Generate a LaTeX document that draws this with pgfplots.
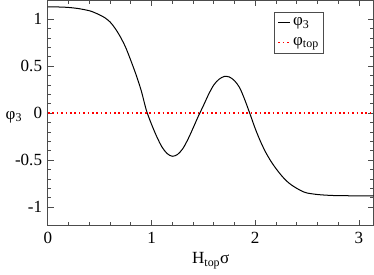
\documentclass[border=0pt]{standalone}
\usepackage{fontspec}
\setmainfont{Liberation Serif}
\usepackage{pgfplots}
\pgfplotsset{compat=1.18}
\definecolor{myred}{RGB}{255,0,0}
\begin{document}
\fontsize{17}{20}\selectfont
\begin{tikzpicture}
\begin{axis}[
  scale only axis,
  width=325pt, height=225pt,
  xmin=0, xmax=3.14159, ymin=-1.2, ymax=1.2,
  xtick={0,1,2,3}, ytick={-1,-0.5,0,0.5,1},
  minor x tick num=4, minor y tick num=4,
  tick align=inside,
  major tick length=6pt, minor tick length=3.5pt,
  axis line style={black!70, line width=0.8pt},
  every tick/.style={black!70, line width=0.8pt},
  /pgf/number format/assume math mode=true,
  yticklabel style={/pgf/number format/fixed},
  ticklabel style={font=\fontsize{17}{20}\selectfont},
  xlabel={H\textsubscript{top}σ},
  ylabel={φ\textsubscript{3}},
  label style={font=\fontsize{17}{20}\selectfont},
  ylabel style={rotate=-90, at={(rel axis cs:0,0.5)}, anchor=base, xshift=-34pt, yshift=-6pt},
  xlabel style={yshift=2pt},
  legend style={at={(0.695,0.947)}, anchor=north west, draw=black!70, line width=0.6pt,
    font=\fontsize{17}{20}\selectfont, inner sep=3pt, row sep=5pt},
  legend cell align=left,
  legend image code/.code={\draw[#1] (0cm,0cm) -- (0.42cm,0cm);},
]
\addplot[black, line width=1pt, smooth] coordinates {
(0,1.131) (0.1,1.13) (0.2,1.125) (0.3,1.112) (0.4,1.09) (0.45,1.07) (0.5,1.045)
(0.55,1.015) (0.6,0.97) (0.65,0.9) (0.7,0.81) (0.75,0.7) (0.8,0.56) (0.85,0.41)
(0.9,0.24) (0.95,0.03) (1.0,-0.12) (1.05,-0.25) (1.1,-0.36) (1.15,-0.43) (1.2,-0.459)
(1.25,-0.44) (1.3,-0.38) (1.35,-0.28) (1.4,-0.16) (1.45,-0.035) (1.5,0.08) (1.55,0.2)
(1.6,0.3) (1.65,0.36) (1.7,0.39) (1.75,0.385) (1.8,0.345) (1.85,0.27) (1.9,0.14)
(1.95,-0.01) (2.0,-0.165) (2.05,-0.30) (2.1,-0.415) (2.15,-0.51) (2.2,-0.59) (2.25,-0.66)
(2.3,-0.72) (2.35,-0.765) (2.4,-0.80) (2.45,-0.83) (2.5,-0.85) (2.6,-0.866) (2.7,-0.874)
(2.8,-0.878) (3.0,-0.88) (3.14159,-0.88)
};
\addlegendentry{φ\textsubscript{3}}
\addplot[color=myred, draw=myred, line width=1.6pt, dash pattern=on 1.6pt off 2.8pt] coordinates {(0,0) (3.14159,0)};
\addlegendentry{φ\textsubscript{top}}
\end{axis}
\end{tikzpicture}
\end{document}
